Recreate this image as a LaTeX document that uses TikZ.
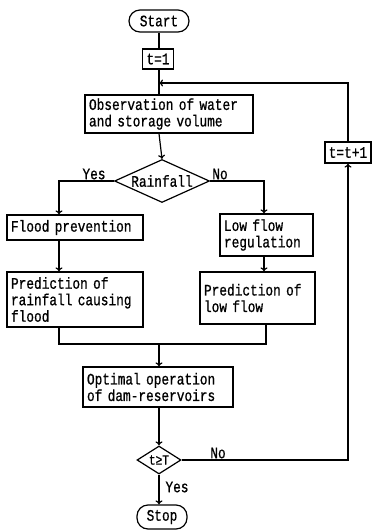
\documentclass[tikz,border=0pt]{standalone}
\usepackage{fontspec}
\usetikzlibrary{positioning,shapes.geometric,arrows.meta}
\newfontfamily\flowfont{Liberation Mono}[FakeStretch=0.8,FakeBold=0.8]

\begin{document}
\begin{tikzpicture}[x=1pt, y=-1pt,
  every node/.style={font=\flowfont\fontsize{16}{16.5}\selectfont},
  box/.style={draw, line width=1.2pt, rectangle, align=left, inner xsep=4pt, inner ysep=2pt},
  term/.style={draw, line width=1.2pt, rounded corners=11pt, inner sep=2pt},
  dec/.style={draw, line width=1.2pt, diamond, inner sep=0pt},
  lbl/.style={inner sep=1pt},
  e/.style={line width=1.2pt},
  a/.style={e, -{To[length=4pt,width=7pt]}}
]
\useasboundingbox (0,0) rectangle (372,531);

% --- column positions of the vertical lines ---
\coordinate (mx) at (159,0);
\coordinate (lx) at (59,0);
\coordinate (rx) at (264,0);

% --- main column ---
\node[term, minimum width=60pt, minimum height=22pt] (start) at (159,21) {Start};
\node[box, minimum width=31pt, minimum height=20pt, inner xsep=2pt] (t1) at (158,59) {t=1};
\node[box, text width=160pt, minimum height=38pt] (obs) at (169,114)
  {Observation of water\\and storage volume};
\node[dec, aspect=2.3, minimum width=95pt, minimum height=43pt] (rain) at (162,181) {Rainfall};

% --- two branches ---
\node[box, text width=128pt, minimum height=25pt] (flood) at (75,227.5) {Flood prevention};
\node[box, text width=85pt, minimum height=42pt] (low) at (266.5,235)
  {Low flow\\regulation};
\node[box, text width=128pt, minimum height=55pt] (predf) at (75,299.5)
  {Prediction of\\rainfall causing\\flood};
\node[box, text width=107pt, minimum height=52pt] (predl) at (257.5,298)
  {Prediction of\\low flow\\[8pt]};

% --- bottom part ---
\coordinate (j) at (159,344);
\node[box, text width=142pt, minimum height=40pt] (opt) at (158,387)
  {Optimal operation\\of dam-reservoirs};
\node[dec, aspect=1.6, minimum width=44pt, minimum height=28pt,
  font=\flowfont\fontsize{14}{14}\selectfont] (test) at (159,460) {t≥T};
\node[term, minimum width=50pt, minimum height=24pt] (stop) at (162,517) {Stop};

% --- loop back ---
\node[box, minimum width=46pt, minimum height=21pt, inner xsep=1pt] (tinc) at (348,152.5) {t=t+1};
\coordinate (loop) at (159,83);

% --- labels ---
\node[lbl] (yes1) at (94,174) {Yes};
\node[lbl] (no1) at (220,174) {No};
\node[lbl] (no2) at (218,453) {No};
\node[lbl] (yes2) at (177,487) {Yes};

% --- connectors ---
\draw[e] (start) -- (t1.north -| start);
\draw[e] (t1.south -| mx) -- (obs.north -| mx);
\draw[a] (obs.south -| mx) -- (rain.north);
\draw[a] (rain.west) -| (flood.north -| lx);
\draw[a] (rain.east) -| (low.north -| rx);
\draw[a] (flood.south -| lx) -- (predf.north -| lx);
\draw[a] (low.south -| rx) -- (predl.north -| rx);
\draw[e] (predf.south -| lx) |- (j) -| (predl.south -| 266,0);
\draw[a] (j) -- (opt.north -| mx);
\draw[a] (opt.south -| mx) -- (test.north);
\draw[a] (test.south) -- (stop.north -| mx);
\draw[a] (test.east) -| (tinc.south);
\draw[a] (tinc.north) |- (loop);

\end{tikzpicture}
\end{document}
